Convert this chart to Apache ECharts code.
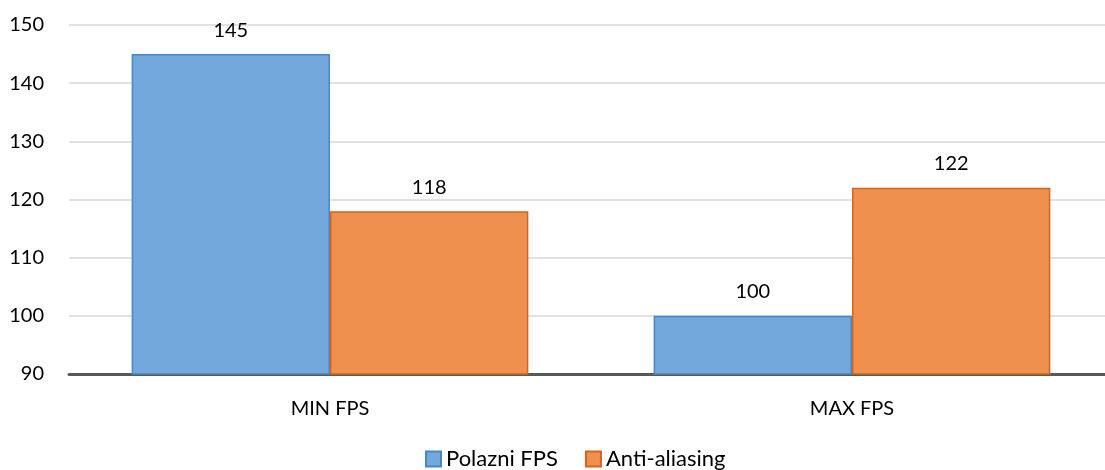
<!DOCTYPE html>
<html>
<head>
<meta charset="utf-8">
<script src="https://cdn.jsdelivr.net/npm/echarts@6/dist/echarts.min.js"></script>
<style>
  html, body { margin: 0; padding: 0; background: #fff; overflow: hidden; }
  /* plot runs slightly past the right edge of the window */
  #chart { width: 1113px; height: 470px; }
</style>
</head>
<body>
<div id="chart"></div>
<script>
// FPS comparison: baseline vs. anti-aliasing
const categories = ['MIN FPS', 'MAX FPS'];
const seriesNames = ['Polazni FPS', 'Anti-aliasing'];
const polazniFps = [145, 100];
const antiAliasing = [118, 122];

const FONT = 'Lato, "Open Sans", sans-serif';
const FS = 20;

const chart = echarts.init(document.getElementById('chart'), null, { renderer: 'canvas' });

function barSeries(name, data, fill, border) {
  return {
    name: name,
    type: 'bar',
    data: data,
    barGap: '0%',
    barCategoryGap: '24%',
    itemStyle: { color: fill, borderColor: border, borderWidth: 1.5 },
    label: {
      show: true,
      position: 'top',
      distance: 14,
      color: '#000',
      fontFamily: FONT,
      fontSize: FS
    }
  };
}

chart.setOption({
  animation: false,
  grid: { left: 69, right: 0, top: 25, bottom: 96 },
  legend: {
    top: 448,
    left: 425,
    padding: 0,
    itemWidth: 15,
    itemHeight: 15,
    itemGap: 27,
    icon: 'rect',
    textStyle: { fontFamily: FONT, fontSize: 22, color: '#000' },
    data: seriesNames
  },
  xAxis: {
    type: 'category',
    data: categories,
    axisLine: { lineStyle: { color: '#595959', width: 3 } },
    axisTick: { show: false },
    axisLabel: { fontFamily: FONT, fontSize: FS, color: '#000', margin: 25 }
  },
  yAxis: {
    type: 'value',
    min: 90,
    max: 150,
    interval: 10,
    axisLine: { show: false },
    axisTick: { show: false },
    axisLabel: { fontFamily: FONT, fontSize: FS, color: '#000', margin: 25 },
    splitLine: { lineStyle: { color: '#d9d9d9', width: 1.5 } }
  },
  series: [
    barSeries(seriesNames[0], polazniFps, '#72a8db', '#4a86c5'),
    barSeries(seriesNames[1], antiAliasing, '#ef904f', '#d2661e')
  ]
});
</script>
</body>
</html>
